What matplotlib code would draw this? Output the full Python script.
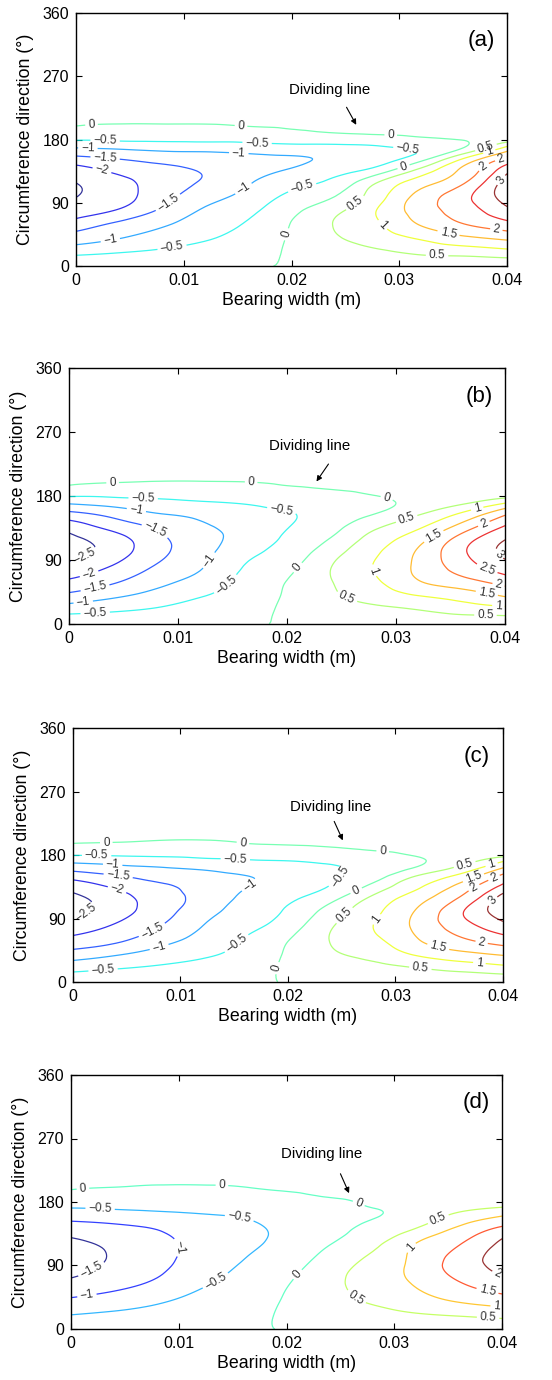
import numpy as np
import matplotlib
matplotlib.use('Agg')
import matplotlib.pyplot as plt
import matplotlib.tri as mtri
from matplotlib.colors import Normalize

plt.rcParams['font.family'] = ['Liberation Sans', 'DejaVu Sans']

# grid of the field
width_m = [0.0, 0.004, 0.008, 0.012, 0.016, 0.020, 0.024, 0.028, 0.032, 0.036, 0.040]
theta_deg = [0, 20, 40, 60, 80, 100, 120, 135, 150, 160, 170, 180, 190, 200, 215, 250, 360]

# one list per width position, values along theta_deg
field_a = [
    [-0.02, -0.66, -1.26, -1.80, -2.25, -2.52, -2.48, -2.22, -1.78, -1.36, -0.91, -0.47, -0.23, 0.01, 0.07, 0.1, 0.1],
    [-0.02, -0.53, -1.02, -1.40, -1.97, -2.18, -2.13, -1.91, -1.57, -1.23, -0.84, -0.44, -0.27, -0.04, 0.06, 0.1, 0.1],
    [-0.02, -0.42, -0.76, -1.08, -1.43, -1.70, -1.77, -1.68, -1.39, -1.11, -0.77, -0.42, -0.25, -0.04, 0.06, 0.1, 0.1],
    [-0.02, -0.30, -0.55, -0.75, -0.95, -1.20, -1.44, -1.46, -1.30, -1.08, -0.74, -0.41, -0.25, -0.04, 0.06, 0.1, 0.1],
    [-0.02, -0.17, -0.31, -0.45, -0.63, -0.86, -1.05, -1.18, -1.16, -1.00, -0.67, -0.39, -0.17, 0.02, 0.07, 0.1, 0.1],
    [0.02, 0.06, 0.06, 0.02, -0.13, -0.38, -0.70, -0.93, -1.07, -0.93, -0.61, -0.32, -0.07, 0.04, 0.07, 0.1, 0.1],
    [0.03, 0.25, 0.45, 0.52, 0.35, -0.02, -0.38, -0.65, -0.88, -0.86, -0.60, -0.28, 0.01, 0.06, 0.08, 0.1, 0.1],
    [0.03, 0.42, 0.75, 0.95, 1.02, 0.80, 0.47, -0.23, -0.66, -0.70, -0.53, -0.22, 0.06, 0.08, 0.08, 0.1, 0.1],
    [0.03, 0.60, 1.07, 1.55, 1.75, 1.68, 1.25, 0.72, -0.05, -0.45, -0.38, -0.08, 0.08, 0.09, 0.09, 0.1, 0.1],
    [0.03, 0.70, 1.40, 2.00, 2.27, 2.35, 1.93, 1.65, 1.20, 0.50, -0.03, 0.02, 0.10, 0.10, 0.10, 0.1, 0.1],
    [0.03, 0.83, 1.62, 2.35, 2.90, 3.28, 3.25, 2.90, 2.25, 1.72, 1.02, 0.30, 0.12, 0.10, 0.10, 0.1, 0.1],
]

field_b = [
    [-0.02, -0.70, -1.37, -1.92, -2.38, -2.63, -2.62, -2.35, -1.85, -1.42, -0.95, -0.47, -0.10, 0.04, 0.07, 0.1, 0.1],
    [-0.02, -0.58, -1.10, -1.58, -1.95, -2.27, -2.22, -1.88, -1.48, -1.17, -0.80, -0.45, -0.20, 0.02, 0.07, 0.1, 0.1],
    [-0.02, -0.44, -0.83, -1.17, -1.45, -1.65, -1.64, -1.46, -1.15, -0.90, -0.66, -0.41, -0.20, -0.01, 0.06, 0.1, 0.1],
    [-0.02, -0.27, -0.54, -0.82, -1.05, -1.18, -1.20, -1.10, -0.95, -0.78, -0.56, -0.36, -0.18, -0.01, 0.06, 0.1, 0.1],
    [-0.02, -0.15, -0.28, -0.38, -0.49, -0.65, -0.82, -0.85, -0.76, -0.64, -0.48, -0.31, -0.15, 0.00, 0.06, 0.1, 0.1],
    [0.01, 0.06, 0.05, 0.01, -0.14, -0.30, -0.43, -0.51, -0.56, -0.49, -0.36, -0.24, -0.06, 0.04, 0.07, 0.1, 0.1],
    [0.03, 0.25, 0.42, 0.48, 0.49, 0.30, 0.02, -0.15, -0.27, -0.30, -0.25, -0.15, 0.01, 0.06, 0.08, 0.1, 0.1],
    [0.03, 0.38, 0.70, 0.92, 1.02, 0.92, 0.70, 0.44, 0.10, -0.08, -0.10, -0.01, 0.07, 0.08, 0.08, 0.1, 0.1],
    [0.03, 0.50, 1.00, 1.47, 1.60, 1.56, 1.30, 0.95, 0.58, 0.30, 0.12, 0.10, 0.10, 0.09, 0.09, 0.1, 0.1],
    [0.03, 0.70, 1.22, 1.82, 2.22, 2.40, 2.20, 1.75, 1.25, 0.86, 0.42, 0.15, 0.11, 0.10, 0.10, 0.1, 0.1],
    [0.03, 0.82, 1.55, 2.22, 2.76, 3.13, 2.97, 2.60, 2.12, 1.65, 1.00, 0.35, 0.14, 0.10, 0.10, 0.1, 0.1],
]

field_c = [
    [-0.02, -0.68, -1.30, -1.87, -2.30, -2.64, -2.62, -2.30, -1.80, -1.38, -0.94, -0.48, -0.12, 0.03, 0.07, 0.1, 0.1],
    [-0.02, -0.54, -1.07, -1.62, -1.95, -2.22, -2.20, -1.93, -1.54, -1.20, -0.85, -0.46, -0.18, 0.03, 0.07, 0.1, 0.1],
    [-0.02, -0.42, -0.82, -1.20, -1.53, -1.72, -1.72, -1.60, -1.32, -1.08, -0.77, -0.43, -0.20, -0.01, 0.06, 0.1, 0.1],
    [-0.02, -0.31, -0.60, -0.85, -1.01, -1.20, -1.36, -1.35, -1.20, -0.97, -0.67, -0.39, -0.20, -0.02, 0.06, 0.1, 0.1],
    [-0.02, -0.17, -0.35, -0.47, -0.66, -0.80, -0.90, -1.03, -1.02, -0.80, -0.58, -0.34, -0.10, 0.03, 0.07, 0.1, 0.1],
    [0.01, 0.06, 0.06, -0.02, -0.25, -0.43, -0.60, -0.73, -0.78, -0.68, -0.53, -0.30, -0.06, 0.04, 0.07, 0.1, 0.1],
    [0.03, 0.26, 0.44, 0.52, 0.45, 0.22, -0.18, -0.47, -0.56, -0.57, -0.45, -0.26, -0.02, 0.05, 0.08, 0.1, 0.1],
    [0.03, 0.36, 0.66, 0.90, 1.01, 0.88, 0.60, 0.18, -0.20, -0.30, -0.28, -0.13, 0.06, 0.08, 0.08, 0.1, 0.1],
    [0.03, 0.50, 1.08, 1.47, 1.61, 1.55, 1.26, 0.92, 0.53, 0.10, -0.05, 0.02, 0.08, 0.09, 0.09, 0.1, 0.1],
    [0.03, 0.68, 1.37, 1.92, 2.27, 2.42, 2.02, 1.67, 1.14, 0.70, 0.32, 0.12, 0.10, 0.10, 0.10, 0.1, 0.1],
    [0.03, 0.85, 1.58, 2.28, 2.85, 3.28, 3.20, 2.62, 2.15, 1.60, 1.05, 0.35, 0.14, 0.10, 0.10, 0.1, 0.1],
]

field_d = [
    [-0.02, -0.50, -0.92, -1.28, -1.60, -1.68, -1.63, -1.40, -1.07, -0.80, -0.53, -0.34, -0.14, 0.03, 0.07, 0.1, 0.1],
    [-0.02, -0.40, -0.77, -1.10, -1.35, -1.45, -1.40, -1.24, -0.98, -0.74, -0.49, -0.33, -0.17, -0.01, 0.06, 0.1, 0.1],
    [-0.02, -0.30, -0.57, -0.85, -1.06, -1.13, -1.12, -1.05, -0.87, -0.66, -0.44, -0.31, -0.18, -0.04, 0.05, 0.1, 0.1],
    [-0.02, -0.18, -0.36, -0.53, -0.70, -0.83, -0.88, -0.83, -0.70, -0.56, -0.39, -0.28, -0.17, -0.04, 0.05, 0.1, 0.1],
    [-0.02, -0.10, -0.20, -0.30, -0.41, -0.51, -0.60, -0.62, -0.56, -0.47, -0.34, -0.24, -0.12, -0.01, 0.05, 0.1, 0.1],
    [0.01, 0.05, 0.04, -0.01, -0.12, -0.25, -0.36, -0.40, -0.37, -0.30, -0.22, -0.14, -0.05, 0.04, 0.07, 0.1, 0.1],
    [0.03, 0.20, 0.32, 0.36, 0.32, 0.17, -0.01, -0.12, -0.18, -0.17, -0.12, -0.06, 0.03, 0.06, 0.07, 0.1, 0.1],
    [0.03, 0.32, 0.56, 0.70, 0.72, 0.60, 0.38, 0.20, 0.06, -0.03, -0.01, 0.04, 0.07, 0.08, 0.08, 0.1, 0.1],
    [0.03, 0.45, 0.80, 1.01, 1.13, 1.12, 1.02, 0.70, 0.35, 0.20, 0.12, 0.10, 0.10, 0.09, 0.09, 0.1, 0.1],
    [0.03, 0.55, 1.05, 1.40, 1.65, 1.70, 1.48, 1.25, 0.90, 0.65, 0.38, 0.18, 0.12, 0.10, 0.10, 0.1, 0.1],
    [0.03, 0.66, 1.25, 1.73, 2.07, 2.20, 2.12, 1.85, 1.33, 1.00, 0.60, 0.25, 0.14, 0.10, 0.10, 0.1, 0.1],
]

levels_abc = [-2.5, -2, -1.5, -1, -0.5, 0, 0.5, 1, 1.5, 2, 2.5, 3]
levels_d = [-1.5, -1, -0.5, 0, 0.5, 1, 1.5, 2]

x_ticks = [0, 0.01, 0.02, 0.03, 0.04]
x_tick_labels = ['0', '0.01', '0.02', '0.03', '0.04']
y_ticks = [0, 90, 180, 270, 360]

# where the contour labels sit (data coords)
labels_a = [(0.00145, 199), (0.0153, 197.5), (0.0292, 186), (0.0304, 140.7), (0.0191, 47),
            (0.0027, 179), (0.0168, 175), (0.0308, 169.6), (0.0209, 116), (0.0089, 27.5),
            (0.0011, 167), (0.0151, 160), (0.0155, 111), (0.0032, 35.5),
            (0.0027, 154), (0.0086, 89), (0.0024, 136),
            (0.0256, 95.7), (0.0335, 16.6), (0.038, 170.5), (0.0284, 58),
            (0.0384, 160), (0.0346, 50), (0.0394, 154), (0.039, 52),
            (0.0381, 135), (0.0392, 125.5)]
labels_b = [(0.004, 199), (0.0167, 197), (0.0291, 174.6), (0.0205, 86),
            (0.0068, 176.5), (0.0195, 160), (0.0145, 53.5), (0.0024, 16),
            (0.0062, 162), (0.0128, 90), (0.0013, 31.5),
            (0.008, 135), (0.0024, 50), (0.0019, 67.6), (0.0013, 99.5),
            (0.031, 146.5), (0.0255, 38.5), (0.0382, 12.7),
            (0.0279, 75), (0.0374, 165), (0.0394, 26.8),
            (0.0334, 125), (0.0383, 41), (0.0379, 146.5), (0.0394, 55),
            (0.0383, 76), (0.0395, 99.5)]
labels_c = [(0.0031, 198), (0.0158, 196), (0.0288, 183), (0.0263, 131), (0.0189, 20),
            (0.0022, 179), (0.0151, 173), (0.0248, 150), (0.0149, 61), (0.0028, 16.5),
            (0.0037, 167.7), (0.0163, 141), (0.008, 50.5),
            (0.0042, 150), (0.0073, 75), (0.0041, 131), (0.0009, 105),
            (0.0251, 97), (0.0364, 168.6), (0.0323, 17.5),
            (0.0281, 90.7), (0.0389, 168.6), (0.0378, 26),
            (0.0372, 150), (0.034, 51.5), (0.0391, 150), (0.038, 55),
            (0.0375, 128.5), (0.0389, 116.7)]
labels_d = [(0.0011, 201), (0.014, 202), (0.0267, 178), (0.0209, 79),
            (0.0027, 170), (0.0156, 155.7), (0.0135, 66),
            (0.0106, 117), (0.0015, 45), (0.0019, 84),
            (0.0341, 154.8), (0.0266, 48.6), (0.0387, 15.6),
            (0.0319, 110), (0.0395, 32), (0.0386, 51), (0.0395, 74.6)]

# "Dividing line" note: text centre, arrow tail, arrow head
note_a = [(0.0235, 250), (0.0251, 226), (0.0260, 201)]
note_b = [(0.0221, 250), (0.0238, 225), (0.0227, 200.5)]
note_c = [(0.0240, 248), (0.0243, 227.7), (0.0251, 200.8)]
note_d = [(0.0233, 247.7), (0.0250, 220), (0.0258, 192.5)]


def smooth_field(cols):
    # build a triangulation on the grid and let matplotlib refine it (cubic)
    xn = np.array(width_m) * 1000.0
    tn = np.array(theta_deg) / 5.0
    XX, TT = np.meshgrid(xn, tn)
    ny, nx = XX.shape
    tris = []
    for j in range(ny - 1):
        for i in range(nx - 1):
            a = j * nx + i
            tris.append([a, a + 1, a + nx + 1])
            tris.append([a, a + nx + 1, a + nx])
    tri = mtri.Triangulation(XX.ravel(), TT.ravel(), tris)
    z = np.array(cols).T.ravel()
    tri_f, z_f = mtri.UniformTriRefiner(tri).refine_field(z, subdiv=3)
    tri_f = mtri.Triangulation(tri_f.x / 1000.0, tri_f.y * 5.0, tri_f.triangles)
    return tri_f, z_f


def fmt(v):
    return ('%g' % v).replace('-', '\u2212')


def draw_panel(ax, cols, levels, lab_pos, note, tag):
    tri_f, z_f = smooth_field(cols)
    cs = ax.tricontour(tri_f, z_f, levels=levels, cmap='jet',
                       norm=Normalize(vmin=levels[0], vmax=levels[-1]),
                       linewidths=0.9, alpha=0.8)
    ax.clabel(cs, manual=lab_pos, inline=True, inline_spacing=3,
              fmt=fmt, fontsize=8.5, colors='k')

    ax.set_xlim(0, 0.04)
    ax.set_ylim(0, 360)
    ax.set_xticks(x_ticks)
    ax.set_xticklabels(x_tick_labels)
    ax.set_yticks(y_ticks)
    ax.tick_params(direction='in', top=True, right=True, length=4,
                   labelsize=11.5, pad=5)
    for s in ax.spines.values():
        s.set_linewidth(1.0)
    ax.set_xlabel('Bearing width (m)', fontsize=12.8, labelpad=3)
    ax.set_ylabel('Circumference direction (\u00b0)', fontsize=12.8, labelpad=6)

    ax.text(note[0][0], note[0][1], 'Dividing line', fontsize=10.8,
            ha='center', va='center')
    ax.annotate('', xy=note[2], xytext=note[1],
                arrowprops=dict(arrowstyle='-|>', color='k', lw=0.8,
                                mutation_scale=8, shrinkA=0, shrinkB=0))
    ax.text(0.94, 0.89, tag, transform=ax.transAxes, fontsize=16,
            ha='center', va='center')


fig = plt.figure(figsize=(5.52, 13.8), dpi=100)
ax_a = fig.add_axes([0.1377, 0.8072, 0.781, 0.1833])
ax_b = fig.add_axes([0.1250, 0.5478, 0.790, 0.1855])
ax_c = fig.add_axes([0.1322, 0.2884, 0.779, 0.1840])
ax_d = fig.add_axes([0.1286, 0.0370, 0.781, 0.1840])

draw_panel(ax_a, field_a, levels_abc, labels_a, note_a, '(a)')
draw_panel(ax_b, field_b, levels_abc, labels_b, note_b, '(b)')
draw_panel(ax_c, field_c, levels_abc, labels_c, note_c, '(c)')
draw_panel(ax_d, field_d, levels_d, labels_d, note_d, '(d)')

fig.savefig('out.png', dpi=100)
